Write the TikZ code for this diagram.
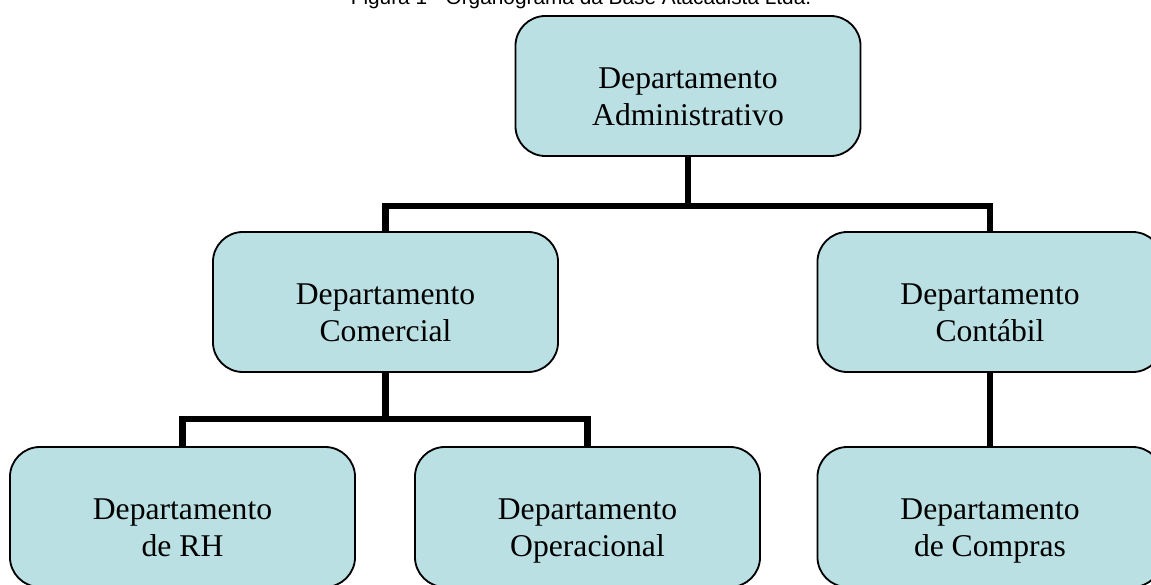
\documentclass[tikz,border=0pt]{standalone}
\usepackage{fontspec}
\setmainfont{Liberation Serif}
\newfontfamily\titlefont{Liberation Sans}
\usetikzlibrary{positioning}
\definecolor{deptblue}{RGB}{186,224,227}

\begin{document}
\begin{tikzpicture}[x=0.025cm,y=-0.025cm,
	dept/.style={draw,line width=1.3pt,fill=deptblue,rounded corners=0.75cm,
		minimum width=8.625cm,minimum height=3.5cm},
	deptname/.style={align=center,font=\fontsize{22.5}{26.3}\selectfont,
		text height=16pt,text depth=31.3pt,yshift=-1.25cm},
	link/.style={line width=4.3pt}]
\useasboundingbox (0,0) rectangle (1151,585);
%title
\path (581,4) node[anchor=base,font=\titlefont\fontsize{14.8}{17}\selectfont] (title)
	{Figura 1 - Organograma da Base Atacadista Ltda.};
%level1
\path (688,86) node[dept,label={[deptname]center:Departamento\\Administrativo}] (adm) {};
%level2
\path (385.5,302) node[dept,label={[deptname]center:Departamento\\Comercial}] (com) {};
\path (990,302) node[dept,label={[deptname]center:Departamento\\Cont\'abil}] (cont) {};
%level3
\path (182.5,517) node[dept,label={[deptname]center:Departamento\\de RH}] (rh) {};
\path (587.5,517) node[dept,label={[deptname]center:Departamento\\Operacional}] (oper) {};
\path (990,517) node[dept,label={[deptname]center:Departamento\\de Compras}] (compras) {};
%links
\coordinate (bus1) at (688,207);
\coordinate (bus2) at (385.5,420);
\draw[link] (adm.south) -- (bus1);
\draw[link] (com.north) -- ++(0,-25) -| (cont.north);
\draw[link] (com.south) -- (bus2);
\draw[link] (rh.north) -- ++(0,-27) -| (oper.north);
\draw[link] (cont.south) -- (compras.north);
\end{tikzpicture}
\end{document}
